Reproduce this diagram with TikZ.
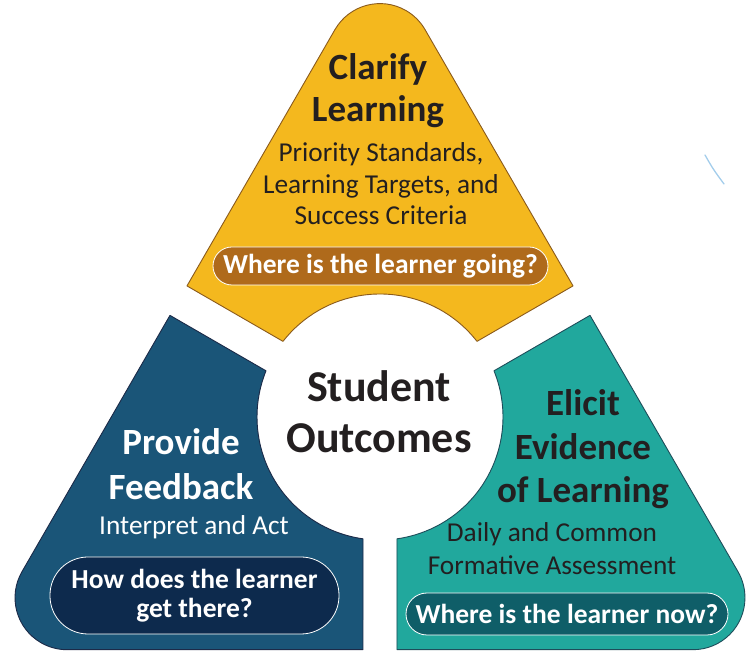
\documentclass[tikz,border=0pt]{standalone}
\usepackage{fontspec}
\setmainfont{Carlito}
\usetikzlibrary{calc}
\definecolor{ink}{HTML}{231F20}
\definecolor{clarifyfill}{HTML}{F4B81E}
\definecolor{clarifyline}{HTML}{8A5A1C}
\definecolor{clarifypill}{HTML}{AF6A1B}
\definecolor{feedfill}{HTML}{1A5578}
\definecolor{feedline}{HTML}{1C2A48}
\definecolor{feedpill}{HTML}{0D2A4D}
\definecolor{elicitfill}{HTML}{21A89D}
\definecolor{elicitline}{HTML}{1E4D5A}
\definecolor{elicitpill}{HTML}{0F5E68}
\definecolor{flick}{HTML}{A3CDEB}
\tikzset{
  seg/.style={line width=0.9pt, line join=round},
  head/.style={font=\bfseries\fontsize{37}{42}\selectfont, align=center, inner sep=0pt, anchor=base},
  core/.style={font=\bfseries\fontsize{44}{51}\selectfont, align=center, inner sep=0pt, anchor=base, text=ink},
  sub/.style={font=\fontsize{27.3}{31.5}\selectfont, align=center, inner sep=0pt, anchor=base},
  pill/.style={draw=white, line width=0.8pt, inner sep=0pt, align=center, text=white, font=\bfseries\fontsize{27.5}{29}\selectfont}
}
\pgfmathsetmacro\rin{232.7}
\pgfmathsetmacro\rc{123}
\pgfmathsetmacro\hw{17}
\pgfmathsetmacro\rk{52}
\pgfmathsetmacro\rcen{2*\rin-2*\rk}
\pgfmathsetmacro\da{asin(\hw/\rc)}

\begin{document}
\begin{tikzpicture}[x=1pt, y=1pt]
    \useasboundingbox (-380,-235) rectangle (367,417);

    \draw[seg, fill=clarifyfill, draw=clarifyline] ({150-\da}:\rc) -- ($(150:\rin)+(60:\hw)$) -- ($(90:\rcen)+(150:\rk)$)
    arc[start angle=150, end angle=30, radius=\rk] -- ($(30:\rin)+(120:\hw)$) -- ({30+\da}:\rc)
    arc[start angle={30+\da}, end angle={150-\da}, radius=\rc] -- cycle;
    \draw[seg, fill=feedfill, draw=feedline] ({150+\da}:\rc) -- ($(150:\rin)+(240:\hw)$) -- ($(210:\rcen)+(150:\rk)$)
    arc[start angle=150, end angle=270, radius=\rk] -- ($(270:\rin)+(180:\hw)$) -- ({270-\da}:\rc)
    arc[start angle={270-\da}, end angle={150+\da}, radius=\rc] -- cycle;
    \draw[seg, fill=elicitfill, draw=elicitline] ({-90+\da}:\rc) -- ($(270:\rin)+(0:\hw)$) -- ($(330:\rcen)+(270:\rk)$)
    arc[start angle=-90, end angle=30, radius=\rk] -- ($(30:\rin)+(300:\hw)$) -- ({30-\da}:\rc)
    arc[start angle={30-\da}, end angle={-90+\da}, radius=\rc] -- cycle;

    \node[head, text=ink] (clarify) at (-2,295) {Clarify\\Learning};
    \node[sub, text=ink] (standards) at (1,192) {Priority Standards,\\Learning Targets, and\\Success Criteria};
    \node[pill, fill=clarifypill, rounded corners=19pt, minimum width=335pt, minimum height=38pt] (going) at (0.5,151) {Where is the learner going?};

    \node[core] (outcomes) at (-1,-36) {Student\\Outcomes};

    \node[head, text=white, font=\bfseries\fontsize{37}{45}\selectfont] (provide) at (-199,-83) {Provide\\Feedback};
    \node[sub, text=white] (interpret) at (-186,-118) {Interpret and Act};
    \node[pill, fill=feedpill, rounded corners=38pt, minimum width=289pt, minimum height=77pt] (there) at (-185.5,-178.5) {How does the learner\\get there?};

    \node[head, text=ink, font=\bfseries\fontsize{37}{43.5}\selectfont] (elicit) at (203,-86) {Elicit\\Evidence\\of Learning};
    \node[sub, text=ink, font=\fontsize{27.3}{33}\selectfont] (formative) at (172,-158) {Daily and Common\\Formative Assessment};
    \node[pill, fill=elicitpill, rounded corners=21pt, minimum width=322pt, minimum height=42pt] (now) at (187,-197) {Where is the learner now?};

    \draw[flick, line width=1.3pt, line cap=round] (325,262) .. controls (333,248) .. (344,233);
\end{tikzpicture}
\end{document}
